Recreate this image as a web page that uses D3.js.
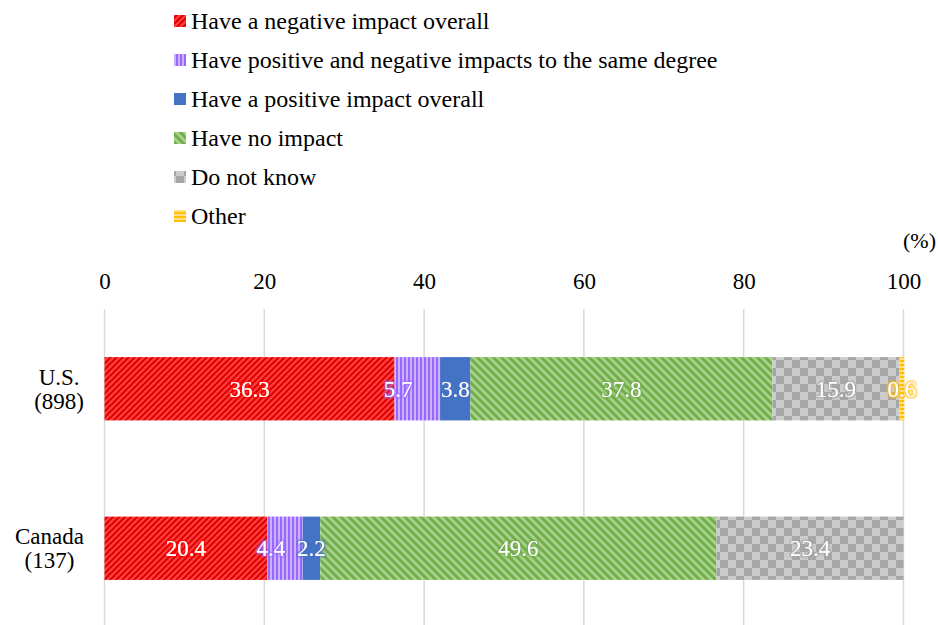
<!DOCTYPE html>
<html>
<head>
<meta charset="utf-8">
<script src="https://cdn.jsdelivr.net/npm/d3@7"></script>
</head>
<body style="margin:0;background:#fff">
<svg id="chart" width="938" height="625" style="display:block"></svg>
<script>
// Survey answers by country (%), stacked left to right
const categories = ["U.S.", "Canada"];
const sampleSizes = ["(898)", "(137)"];
const seriesNames = [
  "Have a negative impact overall",
  "Have positive and negative impacts to the same degree",
  "Have a positive impact overall",
  "Have no impact",
  "Do not know",
  "Other"
];
const negative = [36.3, 20.4];
const mixed    = [5.7, 4.4];
const positive = [3.8, 2.2];
const noImpact = [37.8, 49.6];
const dontKnow = [15.9, 23.4];
const other    = [0.6, 0];
const tickValues = [0, 20, 40, 60, 80, 100];

const seriesValues = [negative, mixed, positive, noImpact, dontKnow, other];
const seriesKeys = ["neg", "mix", "pos", "none", "dk", "oth"];
const glowColors = ["#ff0000", "#9966ff", "#4472c4", "#70ad47", "#a5a5a5", "#ffc000"];
const FONT = "'Liberation Serif', 'Times New Roman', serif";

const svg = d3.select("#chart");
const defs = svg.append("defs");

// Fill patterns for each series
function pat(id, w, h) {
  return defs.append("pattern").attr("id", id).attr("patternUnits", "userSpaceOnUse")
    .attr("width", w).attr("height", h);
}
{
  // red, upward diagonal stripes
  const p = pat("p-neg", 6, 6);
  p.append("rect").attr("width", 6).attr("height", 6).attr("fill", "#ff4040");
  p.append("path").attr("d", "M-1,1 l2,-2 M0,6 l6,-6 M5,7 l2,-2")
    .attr("stroke", "#e00000").attr("stroke-width", 2);
}
{
  // purple, vertical stripes
  const p = pat("p-mix", 4, 4);
  p.append("rect").attr("width", 4).attr("height", 4).attr("fill", "#cbb2ff");
  p.append("rect").attr("width", 2).attr("height", 4).attr("fill", "#9966ff");
}
{
  const p = pat("p-pos", 4, 4);
  p.append("rect").attr("width", 4).attr("height", 4).attr("fill", "#4472c4");
}
{
  // green, downward diagonal stripes
  const p = pat("p-none", 8, 8);
  p.append("rect").attr("width", 8).attr("height", 8).attr("fill", "#a9d18e");
  p.append("path").attr("d", "M-2,-2 l12,12 M-2,6 l4,4 M6,-2 l4,4")
    .attr("stroke", "#70ad47").attr("stroke-width", 2.8);
}
{
  // grey checkerboard
  const p = pat("p-dk", 16, 16);
  p.append("rect").attr("width", 16).attr("height", 16).attr("fill", "#cccccc");
  p.append("rect").attr("width", 8).attr("height", 8).attr("fill", "#a6a6a6");
  p.append("rect").attr("x", 8).attr("y", 8).attr("width", 8).attr("height", 8).attr("fill", "#a6a6a6");
}
{
  // gold, horizontal stripes
  const p = pat("p-oth", 4, 4);
  p.append("rect").attr("width", 4).attr("height", 4).attr("fill", "#ffe08a");
  p.append("rect").attr("width", 4).attr("height", 2).attr("fill", "#ffc000");
}

// Soft coloured halo behind value labels
seriesKeys.forEach((k, i) => {
  const f = defs.append("filter").attr("id", "glow-" + k)
    .attr("x", "-30%").attr("y", "-30%").attr("width", "160%").attr("height", "160%");
  f.append("feMorphology").attr("in", "SourceAlpha").attr("operator", "dilate").attr("radius", 0.8).attr("result", "d");
  f.append("feGaussianBlur").attr("in", "d").attr("stdDeviation", 1.2).attr("result", "b");
  f.append("feFlood").attr("flood-color", glowColors[i]).attr("result", "c");
  f.append("feComposite").attr("in", "c").attr("in2", "b").attr("operator", "in").attr("result", "g");
  const m = f.append("feMerge");
  m.append("feMergeNode").attr("in", "g");
  m.append("feMergeNode").attr("in", "SourceGraphic");
});

// Scales
const x = d3.scaleLinear().domain([0, 100]).range([104.5, 903.5]);
const y = d3.scaleBand().domain(categories).range([309, 628]).padding(0);
const barH = y.bandwidth() * 0.397;

// Gridlines
svg.append("g").selectAll("line").data(tickValues).join("line")
  .attr("x1", d => x(d)).attr("x2", d => x(d))
  .attr("y1", 309).attr("y2", 625)
  .attr("stroke", "#d9d9d9").attr("stroke-width", 1.5);

// Axis tick labels on top
const axis = svg.append("g").attr("transform", "translate(0,289)")
  .call(d3.axisTop(x).tickValues(tickValues).tickSize(0).tickPadding(0));
axis.attr("font-family", null);
axis.select(".domain").remove();
axis.selectAll("text").style("font-family", FONT).style("font-size", "23px")
  .attr("fill", "#000").attr("dy", 0);

svg.append("text").attr("x", 936).attr("y", 248).attr("text-anchor", "end")
  .style("font-family", FONT).style("font-size", "22px").attr("fill", "#000").text("(%)");

// Stacked data
const rows = categories.map((c, ci) => {
  const r = { cat: c };
  seriesKeys.forEach((k, si) => r[k] = seriesValues[si][ci]);
  return r;
});
const stacked = d3.stack().keys(seriesKeys)(rows);

const layers = svg.append("g").selectAll("g").data(stacked).join("g")
  .attr("fill", d => "url(#p-" + d.key + ")");

layers.selectAll("rect").data(d => d.filter(s => s[1] - s[0] > 0)).join("rect")
  .attr("x", d => x(d[0]))
  .attr("width", d => x(d[1]) - x(d[0]))
  .attr("y", d => y(d.data.cat) + (y.bandwidth() - barH) / 2)
  .attr("height", barH);

// Value labels
const labels = svg.append("g");
stacked.forEach(layer => {
  layer.forEach(s => {
    const v = s[1] - s[0];
    if (v <= 0) return;
    const cx = layer.key === "mix" ? x(s[0]) + 3.5 : (x(s[0]) + x(s[1])) / 2;
    labels.append("text")
      .attr("x", cx)
      .attr("y", y(s.data.cat) + y.bandwidth() / 2 + 8)
      .attr("text-anchor", "middle")
      .style("font-family", FONT).style("font-size", "23px")
      .attr("fill", "#fff")
      .attr("filter", "url(#glow-" + layer.key + ")")
      .text(d3.format(".1f")(v));
  });
});

// Category labels: lines centred within a block that is right-aligned
const catG = svg.append("g");
categories.forEach((c, i) => {
  const g = catG.append("g");
  const cy = y(c) + y.bandwidth() / 2;
  const t1 = g.append("text").attr("y", cy - 4).style("font-family", FONT).style("font-size", "23px")
    .attr("text-anchor", "middle").text(c);
  const t2 = g.append("text").attr("y", cy + 20).style("font-family", FONT).style("font-size", "23px")
    .attr("text-anchor", "middle").text(sampleSizes[i]);
  const w = Math.max(t1.node().getComputedTextLength(), t2.node().getComputedTextLength());
  const cx = 84 - w / 2;
  t1.attr("x", cx); t2.attr("x", cx);
});

// Legend
const legend = svg.append("g");
seriesNames.forEach((name, i) => {
  const ly = 21 + i * 39;
  legend.append("rect").attr("x", 174).attr("y", ly - 6).attr("width", 12).attr("height", 12)
    .attr("fill", "url(#p-" + seriesKeys[i] + ")");
  legend.append("text").attr("x", 191).attr("y", ly + 8)
    .style("font-family", FONT).style("font-size", "24px").attr("fill", "#000").text(name);
});
</script>
</body>
</html>
